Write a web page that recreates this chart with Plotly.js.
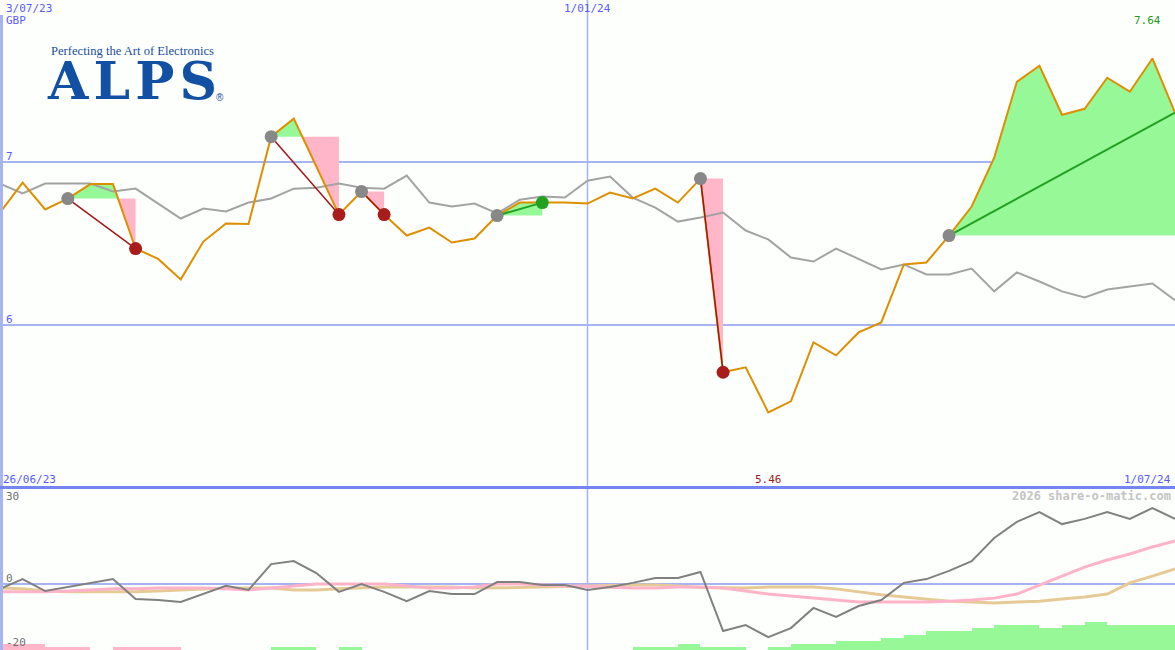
<!DOCTYPE html>
<html><head><meta charset="utf-8">
<script src="https://cdn.plot.ly/plotly-3.0.1.min.js"></script>
<style>html,body{margin:0;padding:0;background:#fdfffd;}#chart{width:1175px;height:650px;}</style>
</head><body><div id="chart"></div>
<script>
// ---------- DATA ----------
const weekDates = ['2023-07-03','2023-07-10','2023-07-17','2023-07-24','2023-07-31','2023-08-07','2023-08-14','2023-08-21','2023-08-28','2023-09-04','2023-09-11','2023-09-18','2023-09-25','2023-10-02','2023-10-09','2023-10-16','2023-10-23','2023-10-30','2023-11-06','2023-11-13','2023-11-20','2023-11-27','2023-12-04','2023-12-11','2023-12-18','2023-12-25','2024-01-01','2024-01-08','2024-01-15','2024-01-22','2024-01-29','2024-02-05','2024-02-12','2024-02-19','2024-02-26','2024-03-04','2024-03-11','2024-03-18','2024-03-25','2024-04-01','2024-04-08','2024-04-15','2024-04-22','2024-04-29','2024-05-06','2024-05-13','2024-05-20','2024-05-27','2024-06-03','2024-06-10','2024-06-17','2024-06-24','2024-07-01'];
const priceGBP = [6.69,6.875,6.71,6.777,6.866,6.866,6.469,6.405,6.279,6.512,6.623,6.62,7.158,7.269,6.974,6.678,6.82,6.678,6.549,6.598,6.506,6.531,6.672,6.752,6.752,6.752,6.746,6.814,6.777,6.838,6.752,6.9,5.707,5.737,5.46,5.528,5.891,5.811,5.952,6.014,6.371,6.383,6.549,6.728,7.029,7.496,7.595,7.293,7.33,7.521,7.435,7.64,7.306];
const relativeLine = [6.869,6.808,6.869,6.869,6.869,6.82,6.838,6.746,6.654,6.715,6.697,6.752,6.777,6.838,6.844,6.869,6.844,6.838,6.918,6.752,6.728,6.746,6.685,6.77,6.789,6.783,6.887,6.912,6.783,6.721,6.635,6.66,6.691,6.58,6.525,6.414,6.389,6.469,6.402,6.34,6.371,6.309,6.309,6.346,6.205,6.322,6.266,6.205,6.168,6.217,6.235,6.254,6.15];
const momentum = [-1.9,1.7,-2.7,-1.2,0.3,1.7,-5.6,-6.0,-6.7,-3.8,-0.8,-2.3,7.2,8.3,3.9,-3.0,-0.1,-3.0,-6.4,-2.7,-3.8,-3.8,0.6,0.6,-0.5,-0.5,-2.3,-1.2,0.3,2.1,2.1,4.3,-17.4,-15.2,-19.6,-16.3,-8.9,-12.2,-8.2,-6.0,0.3,1.7,4.7,8.3,16.8,22.7,26.3,21.9,23.8,26.3,23.8,27.8,23.8];
const avgFast = [-3.0,-3.0,-3.0,-2.7,-2.3,-1.9,-1.9,-1.6,-1.6,-1.6,-1.9,-2.3,-1.6,-0.8,-0.1,-0.1,-0.1,-0.1,-0.8,-1.6,-1.6,-1.2,-0.1,-0.1,-0.5,-0.8,-1.2,-1.4,-1.6,-1.6,-1.2,-1.2,-1.6,-2.7,-3.8,-4.5,-5.3,-6.0,-6.7,-6.7,-6.7,-6.7,-6.4,-6.0,-5.3,-3.8,-0.5,2.8,6.1,8.7,10.9,13.5,15.7];
const avgSlow = [-1.6,-1.9,-2.7,-3.0,-3.0,-3.0,-3.0,-2.7,-2.3,-1.9,-1.6,-1.6,-1.6,-2.3,-2.3,-1.9,-1.6,-1.2,-1.2,-1.2,-1.2,-1.6,-1.6,-1.4,-1.2,-1.0,-0.8,-0.7,-0.5,-0.5,-0.8,-1.4,-1.6,-1.6,-1.2,-1.2,-1.2,-1.9,-3.0,-4.1,-4.9,-5.6,-6.4,-6.7,-7.1,-6.7,-6.4,-5.6,-4.9,-3.8,0.3,2.8,5.4];
const signalBars = [-2,-2,-1,-1,0,-1,-1,-1,0,0,0,0,1,1,0,1,0,0,0,0,0,0,0,0,0,0,0,0,1,1,2,1,1,0,1,2,2,3,3,4,5,6,6,7,8,8,7,8,9,8,8,8,0];
const tradeEntries = [3,12,16,22,31,42];
const tradeExits   = [6,15,17,24,32,null];
const priceScaleTicks = [6,7];
const priceTickLabels = ['6','7'];

// ---------- HELPERS ----------
const toMs = s => new Date(s+'T00:00:00Z').getTime();
const toStr = ms => new Date(ms).toISOString().replace('T',' ').slice(0,19);
const px = x => x/1175, py = y => 1 - y/650;

const GREEN_FILL='#97f897', PINK_FILL='#ffb6c9';
const traces = [];

// trade fills
tradeEntries.forEach((a,t)=>{
  const b = tradeExits[t]===null ? priceGBP.length-1 : tradeExits[t];
  const e = priceGBP[a];
  const xs=[], ys=[];
  for(let k=a;k<=b;k++){
    xs.push(toMs(weekDates[k])); ys.push(priceGBP[k]);
    if(k<b){
      const p0=priceGBP[k]-e, p1=priceGBP[k+1]-e;
      if(p0*p1<0){
        const f=p0/(p0-p1);
        const m0=toMs(weekDates[k]), m1=toMs(weekDates[k+1]);
        xs.push(m0+f*(m1-m0)); ys.push(e);
      }
    }
  }
  const xStr = xs.map(toStr);
  const base = xs.map(()=>e);
  const up = ys.map(v=>Math.max(v,e));
  const dn = ys.map(v=>Math.min(v,e));
  const common={type:'scatter',mode:'lines',x:xStr,xaxis:'x',yaxis:'y',line:{width:0},hoverinfo:'skip',showlegend:false};
  traces.push(Object.assign({},common,{y:base}));
  traces.push(Object.assign({},common,{y:up,fill:'tonexty',fillcolor:GREEN_FILL}));
  traces.push(Object.assign({},common,{y:base}));
  traces.push(Object.assign({},common,{y:dn,fill:'tonexty',fillcolor:PINK_FILL}));
});

// relative comparison line
traces.push({type:'scatter',mode:'lines',x:weekDates,y:relativeLine,line:{color:'#a3a3a3',width:2},hoverinfo:'skip',showlegend:false});
// price line
traces.push({type:'scatter',mode:'lines',x:weekDates,y:priceGBP,line:{color:'#de8f00',width:2},hoverinfo:'skip',showlegend:false});

// trade lines & markers
const entryX=[],entryY=[],exitX=[],exitY=[],exitC=[];
tradeEntries.forEach((a,t)=>{
  const open = tradeExits[t]===null;
  const b = open ? priceGBP.length-1 : tradeExits[t];
  const win = priceGBP[b] > priceGBP[a];
  traces.push({type:'scatter',mode:'lines',x:[weekDates[a],weekDates[b]],y:[priceGBP[a],priceGBP[b]],
    line:{color: win ? '#22a022' : '#a01818',width: win?2:1.5},hoverinfo:'skip',showlegend:false});
  entryX.push(weekDates[a]); entryY.push(priceGBP[a]);
  if(!open){exitX.push(weekDates[b]); exitY.push(priceGBP[b]); exitC.push(win?'#22a022':'#a81c1c');}
});
traces.push({type:'scatter',mode:'markers',x:entryX,y:entryY,marker:{color:'#888888',size:13},hoverinfo:'skip',showlegend:false});
traces.push({type:'scatter',mode:'markers',x:exitX,y:exitY,marker:{color:exitC,size:13},hoverinfo:'skip',showlegend:false});

// lower panel
traces.push({type:'bar',x:weekDates,y:signalBars.map(Math.abs),xaxis:'x',yaxis:'y3',
  width:7*86400000,offset:0,marker:{color:signalBars.map(v=>v>=0?GREEN_FILL:PINK_FILL),line:{width:0}},hoverinfo:'skip',showlegend:false});
traces.push({type:'scatter',mode:'lines',x:weekDates,y:avgSlow,xaxis:'x',yaxis:'y2',line:{color:'#e6ca96',width:3},hoverinfo:'skip',showlegend:false});
traces.push({type:'scatter',mode:'lines',x:weekDates,y:avgFast,xaxis:'x',yaxis:'y2',line:{color:'#ffb3c8',width:3},hoverinfo:'skip',showlegend:false});
traces.push({type:'scatter',mode:'lines',x:weekDates,y:momentum,xaxis:'x',yaxis:'y2',line:{color:'#808080',width:2},hoverinfo:'skip',showlegend:false});

// ---------- LAYOUT ----------
const mono='DejaVu Sans Mono', BLUE='#5a5aff';
const lab=(text,x,y,opt={})=>Object.assign({text:text,xref:'paper',yref:'paper',x:px(x),y:py(y),xanchor:'left',yanchor:'middle',showarrow:false,
  font:{family:mono,size:11,color:BLUE}},opt);
const iMax = priceGBP.indexOf(Math.max(...priceGBP));
const iMin = priceGBP.indexOf(Math.min(...priceGBP));

const annotations=[
  lab('3/07/23',4,8),
  lab('GBP',4,20),
  {text:'1/01/24',xref:'x',yref:'paper',x:'2024-01-01',y:py(8),xanchor:'center',yanchor:'middle',showarrow:false,font:{family:mono,size:11,color:BLUE}},
  {text:priceGBP[iMax].toFixed(2),xref:'x',yref:'paper',x:weekDates[iMax],y:py(21),xanchor:'right',yanchor:'middle',xshift:11,showarrow:false,font:{family:mono,size:11,color:'#229922'}},
  lab(priceTickLabels[1],4,156),
  lab(priceTickLabels[0],4,319),
  lab('26/06/23',1,479),
  {text:priceGBP[iMin].toFixed(2),xref:'x',yref:'paper',x:weekDates[iMin],y:py(479),xanchor:'center',yanchor:'middle',showarrow:false,font:{family:mono,size:11,color:'#a01c1c'}},
  lab('1/07/24',1173,479,{xanchor:'right'}),
  lab('<b>2026 share-o-matic.com</b>',1173,496,{xanchor:'right',font:{family:mono,size:12,color:'#c4c4c4'}}),
  lab('30',4,496,{font:{family:mono,size:11,color:'#707070'}}),
  lab('0',4,578,{font:{family:mono,size:11,color:'#707070'}}),
  lab('-20',4,642,{font:{family:mono,size:11,color:'#707070'}}),
  lab('Perfecting the Art of Electronics',49,51,{font:{family:'Liberation Serif',size:12.6,color:'#1b4f9c'}}),
  lab('<b>A\u200AL\u200AP\u200AS</b>',45,81,{font:{family:'DejaVu Serif',size:52,color:'#1150a2'}}),
  lab('®',214,97,{font:{family:'Liberation Sans',size:10,color:'#1150a2'}})
];

const shapes=[
  {type:'line',xref:'x',yref:'paper',x0:'2024-01-01',x1:'2024-01-01',y0:0,y1:1,line:{color:'#a6b4f2',width:1.5},layer:'below'},
  {type:'line',xref:'paper',yref:'paper',x0:px(1.5),x1:px(1.5),y0:0,y1:py(15),line:{color:'#a6b4f2',width:3},layer:'above'},
  {type:'line',xref:'paper',yref:'paper',x0:0,x1:1,y0:py(487.5),y1:py(487.5),line:{color:'#7484f0',width:3},layer:'above'}
];

const layout={
  width:1175,height:650,margin:{l:0,r:0,t:0,b:0,pad:0},
  paper_bgcolor:'#fdfffd',plot_bgcolor:'#fdfffd',showlegend:false,bargap:0,
  xaxis:{type:'date',range:['2023-07-03','2024-07-01'],domain:[0,1],anchor:'y',showgrid:false,showticklabels:false,zeroline:false,showline:false,ticks:''},
  yaxis:{domain:[py(487),1],range:[5,8],tickvals:priceScaleTicks,showticklabels:false,showgrid:true,gridcolor:'#a6b4f2',gridwidth:2,zeroline:false,ticks:''},
  yaxis2:{domain:[0,py(489)],range:[-24.35,34.78],tickvals:[0],showticklabels:false,showgrid:true,gridcolor:'#a6b4f2',gridwidth:2,zeroline:false,anchor:'x',ticks:''},
  yaxis3:{domain:[0,py(489)],overlaying:'y2',range:[0,52],showticklabels:false,showgrid:false,zeroline:false,anchor:'x',ticks:''},
  annotations:annotations,shapes:shapes
};
Plotly.newPlot('chart',traces,layout,{staticPlot:true,displayModeBar:false});
</script></body></html>
